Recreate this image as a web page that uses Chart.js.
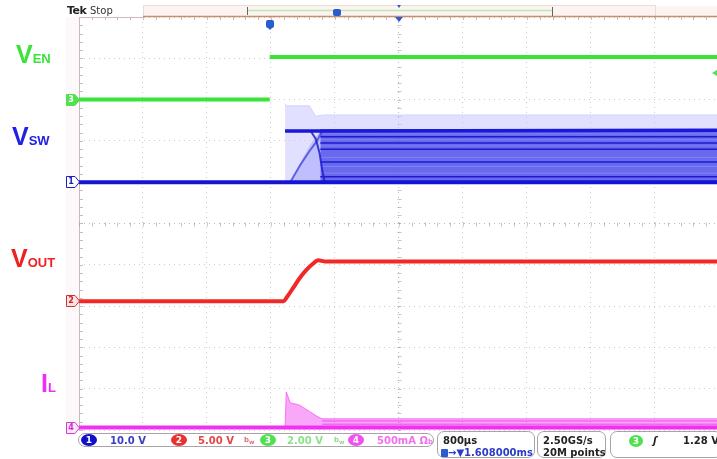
<!DOCTYPE html>
<html><head><meta charset="utf-8">
<script src="https://cdn.jsdelivr.net/npm/chart.js@4"></script>
<style>
body{margin:0;width:717px;height:459px;position:relative;overflow:hidden;background:#fff;font-family:"DejaVu Sans",sans-serif}
#c{position:absolute;left:0;top:0}
.lbl{position:absolute;font-family:"Liberation Sans",Arial,sans-serif;font-weight:bold;white-space:nowrap;font-size:25px;line-height:25px}
.lbl .sub{font-size:13px}
.t{position:absolute;white-space:nowrap;font-size:10px;font-weight:bold;line-height:11px}
.box{position:absolute;border:1px solid #a9a3a8;border-radius:7px;box-sizing:border-box}
.ell{position:absolute;border-radius:50%;color:#fff;font-size:9px;font-weight:bold;text-align:center;line-height:12px;width:16px;height:12px}
.mk{position:absolute;font-size:8px;line-height:10px;width:10px;text-align:center;font-weight:bold}
</style></head>
<body>
<div style="position:absolute;left:66px;top:17px;width:13px;height:413px;background:#fdf9fa"></div>
<canvas id="c" width="717" height="459"></canvas>

<div class="lbl" style="left:16px;top:42px;color:#35e635">V<span class="sub">EN</span></div>
<div class="lbl" style="left:12px;top:124px;color:#2020e6">V<span class="sub">SW</span></div>
<div class="lbl" style="left:11px;top:246px;color:#f02020">V<span class="sub">OUT</span></div>
<div class="lbl" style="left:41px;top:371px;color:#f030f0">I<span class="sub">L</span></div>

<div class="t" style="left:67px;top:5px;font-size:11px;color:#222;letter-spacing:-0.5px">Tek</div>
<div class="t" style="left:90px;top:5px;font-size:10px;font-weight:normal;color:#333">Stop</div>

<div class="box" style="left:78px;top:433px;width:356px;height:14px;border-radius:7px"></div>
<div class="ell" style="left:81px;top:434px;background:#1010c8">1</div>
<div class="t" style="left:110px;top:435px;color:#3c3cc0">10.0 V</div>
<div class="ell" style="left:171px;top:434px;background:#e83030">2</div>
<div class="t" style="left:198px;top:435px;color:#e04848">5.00 V</div>
<div class="t" style="left:244px;top:435px;color:#e07070;font-size:7px">b<sub>w</sub></div>
<div class="ell" style="left:260px;top:434px;background:#50e050">3</div>
<div class="t" style="left:287px;top:435px;color:#8ce08c">2.00 V</div>
<div class="t" style="left:334px;top:435px;color:#90d890;font-size:7px">b<sub>w</sub></div>
<div class="ell" style="left:348px;top:434px;background:#f050f0">4</div>
<div class="t" style="left:377px;top:435px;color:#f070f0">500mA Ω<span style="font-size:7px">b</span></div>

<div class="box" style="left:437px;top:431px;width:98px;height:27px"></div>
<div class="t" style="left:443px;top:435px;color:#222">800µs</div>
<div class="t" style="left:441px;top:447px;color:#2a3cc8"><span style="display:inline-block;width:7px;height:8px;background:#2a5cd0;border-radius:1px;vertical-align:-1px"></span>→▼1.608000ms</div>

<div class="box" style="left:537px;top:431px;width:69px;height:27px"></div>
<div class="t" style="left:543px;top:435px;color:#222">2.50GS/s</div>
<div class="t" style="left:543px;top:447px;color:#222">20M points</div>

<div class="box" style="left:610px;top:431px;width:112px;height:27px"></div>
<div class="ell" style="left:629px;top:435px;background:#50e050;width:14px">3</div>
<div class="t" style="left:653px;top:435px;color:#222;font-style:italic">ʃ</div>
<div class="t" style="left:683px;top:435px;color:#222">1.28 V</div>

<div class="mk" id="m3" style="left:66px;color:#fff">3</div>
<div class="mk" id="m1" style="left:66px;color:#2020c0">1</div>
<div class="mk" id="m2" style="left:66px;color:#d02020">2</div>
<div class="mk" id="m4" style="left:66px;color:#d030d0">4</div>

<script>
// ---- data (time in divisions, amplitude in divisions from screen bottom) ----
const enTime   = [0, 2.98, 2.98, 9.97];
const enLevel  = [8.0, 8.0, null, 9.03];
const enHighT  = [2.98, 9.97];
const enHigh   = [9.03, 9.03];

const swLowTime  = [0, 3.22, 9.97];
const swLow      = [6.0, 6.0, 6.0];
const swHighTime = [3.22, 3.77, 9.97];
const swHigh     = [7.24, 7.24, 7.26];
const swEnvTime  = [3.22, 3.25, 3.6, 3.7, 3.85, 9.97];
const swEnvTop   = [7.9, 7.85, 7.85, 7.6, 7.63, 7.63];
const swBandTime = [3.77, 9.97];
const swBandTop  = [7.26, 7.26];
const swDark     = [6.13, 6.49, 6.8, 6.95, 7.1];
const swLight    = [6.22, 6.38, 6.6, 6.88, 7.03, 7.17];
const swRiseTime = [3.3, 3.45, 3.6, 3.72, 3.8];
const swRise     = [6.0, 6.4, 6.75, 7.0, 7.24];
const swFallTime = [3.62, 3.7, 3.76, 3.8, 3.84];
const swFall     = [7.24, 7.05, 6.7, 6.3, 6.0];

const outTime  = [0, 3.2, 3.25, 3.35, 3.45, 3.55, 3.65, 3.74, 3.85, 9.97];
const outLevel = [3.12, 3.12, 3.22, 3.45, 3.68, 3.87, 4.02, 4.11, 4.08, 4.08];

const ilTime    = [0, 9.97];
const ilLevel   = [0.06, 0.06];
const ilEnvTime = [3.22, 3.24, 3.3, 3.45, 3.6, 3.72, 3.8, 9.97];
const ilEnvTop  = [0.06, 0.92, 0.66, 0.6, 0.45, 0.33, 0.27, 0.27];
const ilStripes = [0.14, 0.22];

const xMax = 9.97;

function pts(xs, ys){ return xs.map((x,i)=>({x, y: ys[i]})); }
function line(data, color, width, order, extra){
  return Object.assign({data, borderColor: color, borderWidth: width, pointRadius: 0, fill: false,
    tension: 0, order, spanGaps: false}, extra||{});
}

const datasets = [
  // VEN
  line(pts(enTime.slice(0,2), enLevel.slice(0,2)), 'rgb(55,228,55)', 4, 1),
  line(pts(enHighT, enHigh), 'rgb(55,228,55)', 4, 1),
  // VSW envelope and band
  line(pts(swEnvTime, swEnvTop), 'rgba(200,200,255,0.7)', 1, 20, {fill: {value: 5.98}, backgroundColor: 'rgba(205,205,255,0.6)'}),
  line(pts(swBandTime, swBandTop), 'rgba(40,40,225,0.9)', 2, 15, {fill: {value: 5.98}, backgroundColor: 'rgba(60,60,232,0.72)'}),
  line(pts([3.3,3.5,3.65,3.77,3.77],[6.0,6.6,7.0,7.24,6.0]), 'rgba(0,0,0,0)', 0, 18, {fill: {value: 5.98}, backgroundColor: 'rgba(150,150,250,0.45)'}),
  ...swLight.map(v => line(pts(swBandTime, [v, v]), 'rgba(150,150,255,0.55)', 1, 11)),
  ...swDark.map(v => line(pts(swBandTime, [v, v]), 'rgba(15,15,200,0.85)', 1.5, 10)),
  line(pts(swRiseTime, swRise), 'rgba(30,30,210,0.6)', 2, 5),
  line(pts(swFallTime, swFall), 'rgba(30,30,210,0.85)', 2, 5),
  line(pts(swHighTime, swHigh), 'rgb(25,25,215)', 3.5, 4),
  line(pts(swLowTime, swLow), 'rgb(20,20,210)', 4, 4),
  // VOUT
  line(pts(outTime, outLevel), 'rgb(242,40,40)', 4, 3, {cubicInterpolationMode: 'monotone'}),
  // IL
  line(pts(ilEnvTime, ilEnvTop), 'rgba(245,100,245,0.9)', 1, 20, {fill: {value: 0.02}, backgroundColor: 'rgba(246,120,246,0.65)'}),
  ...ilStripes.map(v => line(pts([3.8, xMax], [v, v]), 'rgba(238,80,238,0.7)', 1.5, 10)),
  line(pts(ilTime, ilLevel), 'rgb(240,50,240)', 4, 3),
];

const decor = {
  id: 'decor',
  beforeDatasetsDraw(chart){
    const {ctx, chartArea: a, scales: {x, y}} = chart;
    ctx.save();
    // top frame / record bar
    ctx.fillStyle = '#fdf4f1';
    ctx.fillRect(143, 6, 512, 10);
    ctx.fillRect(655, 6, 62, 10);
    ctx.strokeStyle = '#ecdcd6'; ctx.lineWidth = 1;
    ctx.strokeRect(143.5, 5.5, 512, 11);
    ctx.strokeStyle = '#c98c6e'; ctx.lineWidth = 1.5;
    ctx.beginPath(); ctx.moveTo(143, 16.5); ctx.lineTo(717, 16.5); ctx.stroke();
    ctx.strokeStyle = '#b8e8b4'; ctx.lineWidth = 1.5;
    ctx.beginPath(); ctx.moveTo(248, 10.5); ctx.lineTo(552, 10.5); ctx.stroke();
    ctx.strokeStyle = '#666'; ctx.lineWidth = 1;
    ctx.beginPath(); ctx.moveTo(247.5, 7); ctx.lineTo(247.5, 15); ctx.moveTo(552.5, 7); ctx.lineTo(552.5, 16); ctx.stroke();
    // frame left and top with ticks
    ctx.strokeStyle = '#c9bcb8'; ctx.lineWidth = 1;
    ctx.beginPath();
    ctx.moveTo(a.left + 0.5, a.top); ctx.lineTo(a.left + 0.5, a.bottom);
    ctx.moveTo(a.left, a.top + 0.5); ctx.lineTo(143, a.top + 0.5);
    for (let v = 0; v <= 10; v += 0.2) {
      const py = Math.round(y.getPixelForValue(v)) + 0.5;
      ctx.moveTo(a.left, py); ctx.lineTo(a.left + 4, py);
    }
    for (let v = 0; v <= xMax; v += 0.2) {
      const px = Math.round(x.getPixelForValue(v)) + 0.5;
      ctx.moveTo(px, a.top); ctx.lineTo(px, a.top + 3);
    }
    ctx.stroke();
    // centre crosshair ticks
    ctx.strokeStyle = 'rgba(150,150,150,0.55)';
    ctx.beginPath();
    const cy = Math.round(y.getPixelForValue(5)) + 0.5, cx = Math.round(x.getPixelForValue(5)) + 0.5;
    for (let v = 0; v <= xMax; v += 0.2) {
      const px = Math.round(x.getPixelForValue(v)) + 0.5;
      ctx.moveTo(px, cy - 2); ctx.lineTo(px, cy + 2);
    }
    for (let v = 0; v <= 10; v += 0.2) {
      const py = Math.round(y.getPixelForValue(v)) + 0.5;
      ctx.moveTo(cx - 2, py); ctx.lineTo(cx + 2, py);
    }
    ctx.stroke();
    ctx.restore();
  },
  afterDatasetsDraw(chart){
    const {ctx, chartArea: a, scales: {x, y}} = chart;
    ctx.save();
    // channel markers
    const marks = [['m3', enLevel[0], '#50e050', '#50e050'], ['m1', swLow[0], '#2020c0', '#fff'],
                   ['m2', outLevel[0], '#d03030', '#fbe4e4'], ['m4', ilLevel[0], '#d040d0', '#fbe4fb']];
    marks.forEach(([id, v, stroke, fill]) => {
      const py = Math.round(y.getPixelForValue(v));
      ctx.beginPath();
      ctx.moveTo(66.5, py - 5.5); ctx.lineTo(75, py - 5.5); ctx.lineTo(79.5, py); ctx.lineTo(75, py + 5.5); ctx.lineTo(66.5, py + 5.5); ctx.closePath();
      ctx.fillStyle = fill; ctx.fill(); ctx.strokeStyle = stroke; ctx.lineWidth = 1; ctx.stroke();
      document.getElementById(id).style.top = (py - 5) + 'px';
    });
    // trigger position marker
    const tx = Math.round(x.getPixelForValue(enTime[1]));
    ctx.fillStyle = '#2a5cd0';
    ctx.beginPath(); ctx.roundRect(tx - 4, 20, 8, 8, 2); ctx.fill();
    ctx.beginPath(); ctx.moveTo(tx - 2, 28); ctx.lineTo(tx + 2, 28); ctx.lineTo(tx, 30); ctx.fill();
    ctx.beginPath(); ctx.roundRect(333, 9, 8, 7, 2); ctx.fill();
    // centre marker
    const cx = Math.round(x.getPixelForValue(5));
    ctx.beginPath(); ctx.moveTo(cx - 4, 17); ctx.lineTo(cx + 4, 17); ctx.lineTo(cx, 22); ctx.fill();
    ctx.beginPath(); ctx.moveTo(cx - 2, 5); ctx.lineTo(cx + 2, 5); ctx.lineTo(cx, 8); ctx.fill();
    // trigger level marker
    ctx.fillStyle = '#50e050';
    const ly = 73;
    ctx.beginPath(); ctx.moveTo(712, ly); ctx.lineTo(717, ly - 3); ctx.lineTo(717, ly + 3); ctx.fill();
    ctx.restore();
  }
};

new Chart(document.getElementById('c'), {
  type: 'line',
  data: { datasets },
  options: {
    responsive: false, animation: false, devicePixelRatio: 1,
    layout: { padding: { left: 79, top: 17, right: 0, bottom: 29 } },
    plugins: { legend: { display: false }, tooltip: { enabled: false } },
    scales: {
      x: { type: 'linear', min: 0, max: xMax, ticks: { display: false, stepSize: 1 },
           grid: { color: ctx => ctx.tick.value === 5 ? 'rgba(120,120,120,0.5)' : 'rgba(140,140,140,0.45)', drawTicks: false, lineWidth: 1 },
           border: { display: false, dash: [1, 4] } },
      y: { type: 'linear', min: 0, max: 10, ticks: { display: false, stepSize: 1 },
           grid: { color: ctx => ctx.tick.value === 5 ? 'rgba(120,120,120,0.5)' : 'rgba(140,140,140,0.45)', drawTicks: false, lineWidth: 1 },
           border: { display: false, dash: [1, 4] } }
    }
  },
  plugins: [decor]
});
</script>
</body></html>
